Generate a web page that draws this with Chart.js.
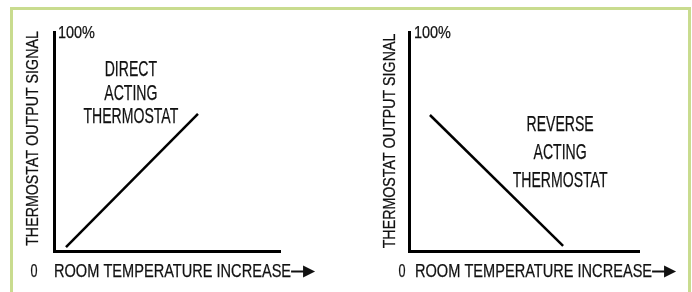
<!DOCTYPE html>
<html>
<head>
<meta charset="utf-8">
<script src="https://cdn.jsdelivr.net/npm/chart.js@4.4.1/dist/chart.umd.min.js"></script>
<style>
    html, body { margin: 0; padding: 0; background: #fff; }
    .wrap { position: relative; width: 692px; height: 292px; overflow: hidden; }
    .frame {
        position: absolute; left: 10px; top: 7px; width: 675px; height: 300px;
        border: 3px solid #c9dc8f; border-bottom: none;
    }
    .wrap canvas { position: absolute; left: 0; top: 0; }
</style>
</head>
<body>
<div class="wrap">
    <div class="frame"></div>
    <canvas id="directChart" width="692" height="292"></canvas>
    <canvas id="reverseChart" width="692" height="292"></canvas>
</div>
<script>
// values (x: room temperature, y: output signal, both 0..100)
const directTemp = [5.3, 63.7];
const directSignal = [1.8, 62.6];
const reverseTemp = [9.1, 67];
const reverseSignal = [62.1, 2.3];

const yTickLabels = ['0', '100%'];
const xTitle = 'ROOM TEMPERATURE INCREASE';
const yTitle = 'THERMOSTAT OUTPUT SIGNAL';
const directNote = ['DIRECT', 'ACTING', 'THERMOSTAT'];
const reverseNote = ['REVERSE', 'ACTING', 'THERMOSTAT'];

const FONT = '"Liberation Sans", Arial, sans-serif';
const INK = '#111';

// narrow text: regular face squeezed sideways, lightly stroked to look heavier
function narrowText(ctx, text, x, y, size, sx, align) {
    ctx.save();
    ctx.font = `${size}px ${FONT}`;
    ctx.translate(x, y);
    ctx.scale(sx, 1);
    ctx.textAlign = align || 'left';
    ctx.textBaseline = 'alphabetic';
    ctx.fillStyle = INK;
    ctx.strokeStyle = INK;
    ctx.lineWidth = 0.25;
    ctx.fillText(text, 0, 0);
    ctx.strokeText(text, 0, 0);
    const w = ctx.measureText(text).width * sx;
    ctx.restore();
    return w;
}

const labelsPlugin = {
    id: 'thermoLabels',
    afterDraw(chart, args, opts) {
        const ctx = chart.ctx;
        const xs = chart.scales.x;
        const ys = chart.scales.y;
        const left = xs.getPixelForValue(0);
        const bottom = ys.getPixelForValue(0);
        const top = ys.getPixelForValue(100);

        // 100% at top of y axis, 0 below origin
        narrowText(ctx, yTickLabels[1], left + opts.topTickDx, top + 6, 17, 0.85, 'left');
        narrowText(ctx, yTickLabels[0], left + opts.zeroDx, bottom + 26, 18, 0.7, 'center');

        // x title with arrow
        const tx = left + opts.xTitleDx;
        const ty = bottom + 26;
        const w = narrowText(ctx, xTitle, tx, ty, 18, 0.81, 'left');
        const ax = tx + w;
        const ay = bottom + 20.5;
        ctx.save();
        ctx.strokeStyle = INK;
        ctx.fillStyle = INK;
        ctx.lineWidth = 2;
        ctx.beginPath();
        ctx.moveTo(ax, ay);
        ctx.lineTo(ax + 14, ay);
        ctx.stroke();
        ctx.beginPath();
        ctx.moveTo(ax + 12, ay - 6);
        ctx.lineTo(ax + 24, ay);
        ctx.lineTo(ax + 12, ay + 6);
        ctx.closePath();
        ctx.fill();
        ctx.restore();

        // y title, rotated
        ctx.save();
        ctx.font = `16px ${FONT}`;
        ctx.translate(left + opts.yTitleDx, opts.yTitleCy);
        ctx.rotate(-Math.PI / 2);
        ctx.scale(0.89, 1);
        ctx.textAlign = 'center';
        ctx.textBaseline = 'alphabetic';
        ctx.fillStyle = INK;
        ctx.strokeStyle = INK;
        ctx.lineWidth = 0.25;
        ctx.fillText(yTitle, 0, 0);
        ctx.strokeText(yTitle, 0, 0);
        ctx.restore();

        // note block
        const nx = xs.getPixelForValue(opts.noteX);
        opts.note.forEach((line, i) => {
            narrowText(ctx, line, nx, opts.noteTop + i * opts.noteGap, 22, 0.64, 'center');
        });
    },
};

function makeChart(id, temps, signals, padding, labelOpts) {
    const points = temps.map((t, i) => ({ x: t, y: signals[i] }));
    const axis = {
        type: 'linear',
        min: 0,
        max: 100,
        grid: { display: false, drawTicks: false },
        ticks: { display: false },
        border: { display: true, color: '#000', width: 3 },
    };
    return new Chart(document.getElementById(id), {
        type: 'line',
        data: {
            datasets: [
                {
                    data: points,
                    borderColor: '#000',
                    borderWidth: 2.5,
                    pointRadius: 0,
                    fill: false,
                    tension: 0,
                },
            ],
        },
        options: {
            responsive: false,
            animation: false,
            devicePixelRatio: 1,
            layout: { padding: padding },
            plugins: {
                legend: { display: false },
                tooltip: { enabled: false },
                thermoLabels: labelOpts,
            },
            scales: { x: { ...axis }, y: { ...axis } },
        },
        plugins: [labelsPlugin],
    });
}

makeChart('directChart', directTemp, directSignal,
    { left: 54, top: 32, right: 412, bottom: 41 },
    { topTickDx: 4, zeroDx: -20, xTitleDx: 0, yTitleDx: -16.5, yTitleCy: 138.5,
      note: directNote, noteX: 34, noteTop: 76, noteGap: 23.5 });

makeChart('reverseChart', reverseTemp, reverseSignal,
    { left: 409, top: 32, right: 53, bottom: 41 },
    { topTickDx: 5, zeroDx: -7, xTitleDx: 6, yTitleDx: -14, yTitleCy: 141,
      note: reverseNote, noteX: 65.7, noteTop: 131, noteGap: 28 });
</script>
</body>
</html>
